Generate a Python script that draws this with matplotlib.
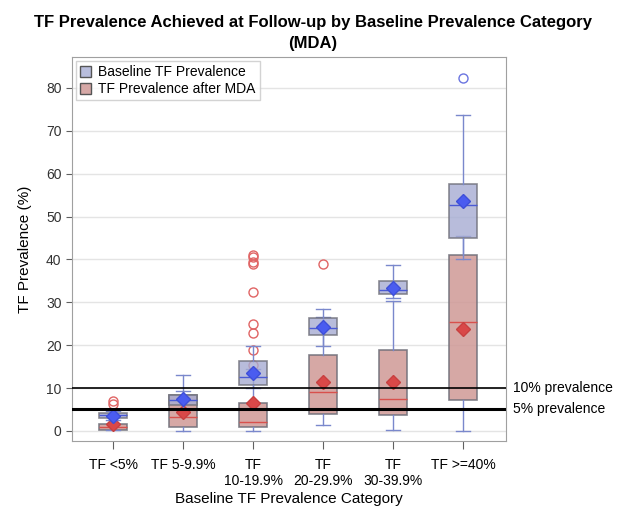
import matplotlib
matplotlib.use('Agg')
import matplotlib.pyplot as plt
from matplotlib.patches import Patch

plt.rcParams['font.family'] = ['Liberation Sans', 'DejaVu Sans']

# categorias del eje x
categorias = ['TF <5%', 'TF 5-9.9%', 'TF\n10-19.9%', 'TF\n20-29.9%', 'TF\n30-39.9%', 'TF >=40%']

# prevalencia basal (azul): bigote inf, Q1, mediana, Q3, bigote sup, media
base_lo = [2.6, 5.2, 10.0, 19.9, 30.9, 40.1]
base_q1 = [3.1, 6.0, 10.8, 22.4, 31.9, 45.0]
base_med = [3.6, 7.2, 12.5, 23.9, 32.9, 52.7]
base_q3 = [4.1, 8.3, 16.3, 26.4, 35.0, 57.6]
base_hi = [4.7, 13.1, 19.7, 28.5, 38.8, 73.6]
base_mean = [3.55, 7.4, 13.6, 24.2, 33.3, 53.5]
base_out = [[], [], [], [], [], [82.3]]

# prevalencia despues de MDA (rojo)
mda_lo = [0.2, 0.0, 0.0, 1.3, 0.3, 0.0]
mda_q1 = [0.3, 1.0, 0.8, 3.9, 3.7, 7.1]
mda_med = [0.9, 3.3, 2.0, 9.0, 7.4, 25.5]
mda_q3 = [1.7, 8.3, 6.4, 17.8, 18.9, 41.0]
mda_hi = [3.5, 9.35, 14.4, 26.5, 30.4, 45.4]
mda_mean = [1.5, 4.5, 6.6, 11.5, 11.3, 23.7]
mda_out = [[6.2, 6.9], [], [15.3, 18.9, 22.9, 25.0, 32.5, 38.9, 39.3, 40.5, 41.1],
           [39.0], [], []]

lineas_ref = [10, 5]
etiquetas_ref = ['10% prevalence', '5% prevalence']


def stats(lo, q1, med, q3, hi, mean, out):
    return [dict(whislo=lo[i], q1=q1[i], med=med[i], q3=q3[i], whishi=hi[i],
                 mean=mean[i], fliers=out[i]) for i in range(len(lo))]


fig = plt.figure(figsize=(6.25, 5.21), dpi=100)
ax = fig.add_axes([0.1152, 0.1536, 0.6944, 0.737])

pos = list(range(len(categorias)))
whisk = '#7a88cc'
borde = '#6e6e78'

# cajas despues de MDA
ax.bxp(stats(mda_lo, mda_q1, mda_med, mda_q3, mda_hi, mda_mean, mda_out),
       positions=pos, widths=0.4, patch_artist=True, showmeans=True,
       boxprops=dict(facecolor='#cf9996', edgecolor=borde, lw=1.2, alpha=0.85),
       medianprops=dict(color='#d8504c', lw=1),
       whiskerprops=dict(color=whisk, lw=1), capprops=dict(color=whisk, lw=1),
       meanprops=dict(marker='D', markerfacecolor='#d94848', markeredgecolor='#c84040', markersize=7.5),
       flierprops=dict(marker='o', markerfacecolor='none', markeredgecolor='#e06464', markersize=6.5),
       zorder=3)

# cajas basales
ax.bxp(stats(base_lo, base_q1, base_med, base_q3, base_hi, base_mean, base_out),
       positions=pos, widths=0.4, patch_artist=True, showmeans=True,
       boxprops=dict(facecolor='#a6acd3', edgecolor=borde, lw=1.2, alpha=0.8),
       medianprops=dict(color='#4a5ad4', lw=1),
       whiskerprops=dict(color=whisk, lw=1), capprops=dict(color=whisk, lw=1),
       meanprops=dict(marker='D', markerfacecolor='#4a5cf0', markeredgecolor='#3e4fd8', markersize=7.5),
       flierprops=dict(marker='o', markerfacecolor='none', markeredgecolor='#6a74e0', markersize=6.5),
       zorder=4)

# lineas de referencia
ax.axhline(lineas_ref[0], color='black', lw=1.2, zorder=5)
ax.axhline(lineas_ref[1], color='black', lw=2.2, zorder=5)
for v, t in zip(lineas_ref, etiquetas_ref):
    ax.annotate(t, xy=(1, v), xycoords=('axes fraction', 'data'), xytext=(5, 0),
                textcoords='offset points', va='center', ha='left', fontsize=10)

ax.set_xlim(-0.59, 5.61)
ax.set_ylim(-2.35, 87.2)
ax.set_yticks(range(0, 81, 10))
ax.set_xticks(pos)
ax.set_xticklabels(categorias, fontsize=10)
ax.tick_params(axis='y', labelsize=10, color='#606060', length=4, labelcolor='#333333')
ax.tick_params(axis='x', color='#606060', length=6, pad=6)
ax.grid(axis='y', color='#e4e4e4', lw=1, zorder=0)
ax.set_axisbelow(True)
for s in ax.spines.values():
    s.set_color('#a0a0a0')

ax.set_ylabel('TF Prevalence (%)', fontsize=11, labelpad=10)
ax.set_xlabel('Baseline TF Prevalence Category', fontsize=11, labelpad=3)
fig.suptitle('TF Prevalence Achieved at Follow-up by Baseline Prevalence Category\n(MDA)',
             fontsize=12, fontweight='bold', y=0.972, linespacing=1.55)

handles = [Patch(facecolor='#b8bddc', edgecolor='#555555', label='Baseline TF Prevalence'),
           Patch(facecolor='#d6a8a6', edgecolor='#555555', label='TF Prevalence after MDA')]
ax.legend(handles=handles, loc='upper left', fontsize=10, frameon=True, fancybox=False,
          edgecolor='#c8c8c8', borderpad=0.3, labelspacing=0.2, handlelength=0.8,
          handleheight=0.8, handletextpad=0.5, borderaxespad=0.3)

fig.savefig('out.png', dpi=100)
